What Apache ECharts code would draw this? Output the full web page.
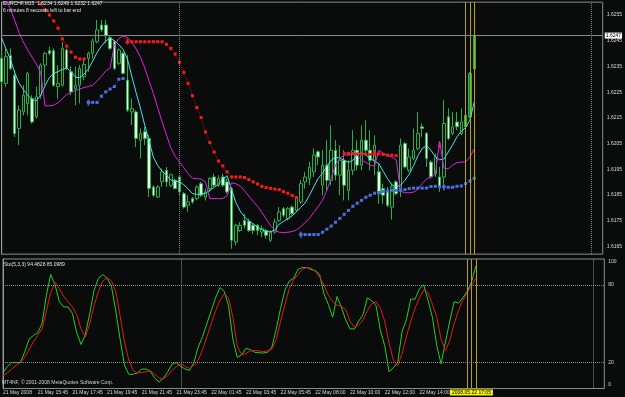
<!DOCTYPE html>
<html><head><meta charset="utf-8">
<script src="https://cdn.jsdelivr.net/npm/echarts@6/dist/echarts.min.js"></script>
<style>html,body{margin:0;padding:0;background:#0a0c0c}#c{width:625px;height:397px}</style>
</head><body><div id="c"></div>
<script>
const symbolName = 'EURCHF,M15';
const timeLabels = ['21 May 2008','21 May 15:45','21 May 17:45','21 May 19:45','21 May 21:45','21 May 23:45','22 May 01:45','22 May 03:45','22 May 05:45','22 May 08:00','22 May 10:00','22 May 12:00','22 May 14:00'];
const priceTicks = [1.6165,1.6175,1.6185,1.6195,1.6205,1.6215,1.6225,1.6235,1.6245,1.6255];
const stochTicks = [0,20,80,100];
const stochLevels = [20,80];
const daySeparators = [41,136];
const vLines = [107,108,109];
const vLineLabel = '2008.05.22 17:05';
const bidPrice = 1.6247;

const open = [1.62381,1.62284,1.62392,1.62316,1.62109,1.62173,1.62206,1.62225,1.62154,1.62238,
1.62355,1.62411,1.62411,1.62271,1.62277,1.62414,1.62329,1.62264,1.62277,1.62310,
1.62381,1.62401,1.62446,1.62511,1.62511,1.62462,1.62446,1.62362,1.62401,1.62297,
1.62173,1.62173,1.62063,1.62096,1.62070,1.61881,1.61842,1.61901,1.61946,1.61888,
1.61907,1.61920,1.61855,1.61810,1.61836,1.61836,1.61894,1.61842,1.61875,1.61920,
1.61888,1.61920,1.61901,1.61875,1.61667,1.61712,1.61751,1.61748,1.61732,1.61732,
1.61706,1.61712,1.61674,1.61706,1.61751,1.61797,1.61758,1.61803,1.61790,1.61823,
1.61901,1.61914,1.61940,1.62018,1.61888,1.61966,1.61907,1.62024,1.61927,1.61985,
1.61868,1.61946,1.62024,1.61966,1.62063,1.62024,1.61985,1.61940,1.61875,1.61862,
1.61803,1.61901,1.61868,1.62050,1.61946,1.61992,1.62031,1.62115,1.62089,1.61978,
1.61933,1.61920,1.61920,1.62154,1.62089,1.62134,1.62089,1.62115,1.62154,1.6234];
const close = [1.62290,1.62388,1.62342,1.62089,1.62180,1.62238,1.62323,1.62134,1.62232,1.62355,
1.62401,1.62401,1.62277,1.62284,1.62420,1.62342,1.62251,1.62277,1.62342,1.62358,
1.62401,1.62449,1.62492,1.62492,1.62469,1.62420,1.62342,1.62414,1.62323,1.62180,
1.62186,1.62070,1.62089,1.62070,1.61875,1.61849,1.61881,1.61940,1.61901,1.61929,
1.61875,1.61862,1.61803,1.61823,1.61823,1.61881,1.61849,1.61862,1.61914,1.61888,
1.61914,1.61888,1.61862,1.61674,1.61732,1.61732,1.61732,1.61712,1.61712,1.61712,
1.61719,1.61693,1.61706,1.61745,1.61784,1.61771,1.61797,1.61777,1.61836,1.61894,
1.61920,1.61959,1.62005,1.61998,1.61966,1.61907,1.62024,1.61927,1.61985,1.61888,
1.61946,1.62024,1.61966,1.62063,1.62024,1.61985,1.62044,1.61855,1.61849,1.61810,
1.61881,1.61855,1.62044,1.61959,1.61998,1.62024,1.62089,1.62109,1.61992,1.61920,
1.61998,1.61881,1.62128,1.62070,1.62115,1.62115,1.62134,1.62160,1.62323,1.6247];
const low = [1.62277,1.62271,1.62336,1.62076,1.62044,1.62160,1.62160,1.62128,1.62147,1.62225,
1.62277,1.62394,1.62271,1.62225,1.62271,1.62336,1.62238,1.62199,1.62206,1.62297,
1.62329,1.62381,1.62440,1.62485,1.62440,1.62414,1.62336,1.62355,1.62319,1.62173,
1.62122,1.62037,1.61992,1.62044,1.61842,1.61842,1.61838,1.61881,1.61881,1.61881,
1.61872,1.61849,1.61797,1.61784,1.61816,1.61829,1.61842,1.61829,1.61862,1.61881,
1.61881,1.61881,1.61855,1.61641,1.61654,1.61706,1.61719,1.61706,1.61699,1.61693,
1.61686,1.61680,1.61667,1.61699,1.61745,1.61764,1.61751,1.61771,1.61784,1.61816,
1.61875,1.61888,1.61920,1.61966,1.61849,1.61868,1.61888,1.61907,1.61849,1.61829,
1.61829,1.61927,1.61946,1.61946,1.62005,1.61946,1.61927,1.61816,1.61816,1.61803,
1.61754,1.61849,1.61842,1.61953,1.61940,1.61985,1.62024,1.62076,1.61959,1.61914,
1.61920,1.61862,1.61881,1.62063,1.62082,1.62102,1.62082,1.62109,1.62148,1.6232];
const high = [1.62414,1.62420,1.62420,1.62336,1.62199,1.62277,1.62329,1.62238,1.62271,1.62362,
1.62407,1.62427,1.62420,1.62355,1.62446,1.62420,1.62349,1.62349,1.62355,1.62381,
1.62407,1.62459,1.62531,1.62531,1.62531,1.62472,1.62453,1.62420,1.62407,1.62394,
1.62225,1.62180,1.62109,1.62115,1.62083,1.61888,1.61888,1.61953,1.61959,1.61933,
1.61914,1.61927,1.61862,1.61849,1.61842,1.61888,1.61901,1.61875,1.61920,1.61933,
1.61927,1.61933,1.61914,1.61881,1.61738,1.61745,1.61777,1.61758,1.61738,1.61738,
1.61732,1.61719,1.61712,1.61758,1.61803,1.61803,1.61803,1.61810,1.61842,1.61907,
1.61940,1.61979,1.62031,1.62024,1.62024,1.62063,1.62121,1.62063,1.62044,1.62024,
1.61985,1.62102,1.62063,1.62121,1.62141,1.62102,1.62082,1.61972,1.61894,1.61881,
1.61894,1.61907,1.62070,1.62056,1.62031,1.62109,1.62173,1.62128,1.62095,1.61985,
1.62011,1.61959,1.62219,1.62187,1.62173,1.62173,1.62187,1.62167,1.62329,1.6249];

const maFast = [1.62459,1.62418,1.62379,1.62326,1.62285,1.62260,1.62238,1.62221,1.62217,1.62238,
1.62275,1.62307,1.62322,1.62330,1.62338,1.62344,1.62330,1.62308,1.62306,1.62320,
1.62340,1.62371,1.62404,1.62429,1.62449,1.62460,1.62450,1.62435,1.62416,1.62379,
1.62312,1.62248,1.62188,1.62121,1.62059,1.61997,1.61964,1.61943,1.61927,1.61909,
1.61904,1.61901,1.61890,1.61874,1.61855,1.61853,1.61853,1.61857,1.61868,1.61880,
1.61892,1.61911,1.61925,1.61872,1.61821,1.61788,1.61765,1.61749,1.61738,1.61725,
1.61715,1.61708,1.61707,1.61714,1.61737,1.61747,1.61758,1.61769,1.61785,1.61802,
1.61820,1.61849,1.61883,1.61915,1.61934,1.61962,1.61985,1.61997,1.61993,1.61985,
1.61977,1.61985,1.62005,1.62016,1.62005,1.61993,1.61981,1.61972,1.61942,1.61913,
1.61890,1.61881,1.61888,1.61907,1.61931,1.61964,1.62003,1.62031,1.62042,1.62024,
1.61999,1.61987,1.61990,1.62017,1.62045,1.62076,1.62098,1.62112,1.62141,1.62212];
const maSlow = [1.62663,1.62616,1.62573,1.62529,1.62482,1.62445,1.62414,1.62386,1.62359,1.62326,
1.62196,1.62197,1.62199,1.62209,1.62225,1.62241,1.62249,1.62257,1.62262,1.62268,
1.62272,1.62277,1.62293,1.62312,1.62332,1.62345,1.62433,1.62458,1.62469,1.62462,
1.62445,1.62418,1.62386,1.62344,1.62293,1.62244,1.62188,1.62135,1.62084,1.62034,
1.62001,1.61979,1.61956,1.61933,1.61915,1.61914,1.61912,1.61901,1.61836,1.61836,
1.61836,1.61836,1.61847,1.61897,1.61894,1.61885,1.61867,1.61846,1.61825,1.61806,
1.61783,1.61757,1.61731,1.61713,1.61705,1.61704,1.61705,1.61708,1.61714,1.61727,
1.61743,1.61759,1.61783,1.61805,1.61829,1.61868,1.61915,1.61966,1.61993,1.62005,
1.62005,1.62008,1.62005,1.61985,1.61977,1.61966,1.61962,1.62024,1.62012,1.62003,
1.61998,1.61987,1.61864,1.61859,1.61859,1.61861,1.61872,1.61895,1.61912,1.61921,
1.61931,1.62059,1.61954,1.61952,1.61966,1.61976,1.61978,1.61979,1.61997,1.62030];

const N = null;
const stopSell = [N,N,N,N,N,N,N,N,1.62616,1.62593,
1.62569,1.62550,1.62527,1.62499,1.62457,1.62429,1.62406,1.62386,1.62379,1.62379,
N,N,N,N,N,N,N,N,N,1.62446,
1.62446,1.62446,1.62446,1.62446,1.62446,1.62446,1.62446,1.62446,1.62436,1.62420,
1.62398,1.62366,1.62327,1.62284,1.62236,1.62190,1.62151,1.62095,1.62054,1.62017,
1.61982,1.61963,1.61940,1.61920,1.61920,1.61920,1.61918,1.61910,1.61901,1.61893,
1.61883,1.61879,1.61876,1.61873,1.61871,1.61863,1.61857,1.61848,1.61840,N,
N,N,N,N,N,N,N,N,N,1.62012,
1.62012,1.62012,1.62010,1.62010,1.62008,1.62008,1.62012,1.62010,1.62008,1.62005,
1.62005,1.62003,N,N,N,N,N,N,N,N,
N,N,N,N,N,N,N,N,N,N];
const stopBuy = [N,N,N,N,N,N,N,N,N,N,
N,N,N,N,N,N,N,N,N,N,
1.62210,1.62210,1.62210,1.62234,1.62251,1.62262,1.62272,1.62300,1.62303,N,
N,N,N,N,N,N,N,N,N,N,
N,N,N,N,N,N,N,N,N,N,
N,N,N,N,N,N,N,N,N,N,
N,N,N,N,N,N,N,N,N,1.61696,
1.61696,1.61696,1.61696,1.61696,1.61705,1.61717,1.61729,1.61744,1.61759,1.61775,
1.61790,1.61806,1.61818,1.61829,1.61841,1.61849,1.61857,1.61860,1.61864,1.61866,
1.61868,1.61868,1.61868,1.61871,1.61875,1.61877,1.61877,1.61877,1.61877,1.61883,
1.61884,1.61882,1.61881,1.61880,1.61880,1.61884,1.61885,1.61894,1.61904,1.61915];
const sellArrowIdx = [29,86,101];
const sellArrowPrice = [1.62446,1.62012,1.62043];
const buyArrowIdx = [20,69,102];
const buyArrowPrice = [1.62210,1.61696,1.61881];

const stochK = [12,17,20,20,20,28,38,41,43,50,72,88,80,67,63,63,58,43,34,42,58,76,85,88,85,79,60,38,18,11,11,12,15,15,13,8,5,8,13,19,20,17,15,14,20,32,40,50,60,70,78,75,64,38,24,26,31,30,28,27.6,27.4,28,32,46,62,76,83,85,92,93.4,93.4,92,91,88,73,65,55,71,63,53,46,46,52,57,70,68,64,45,33,13,16,20,44,53,69,69,77,80,68,55,33,19,36,52,67,66,70,75,82,94.4828];
const stochD = [10,12,15,18,20,24,30,36,41,46,60,74,82,77,71,67,63,57,46,40,50,64,75,83,85.5,83,75,56,36,22,14,12,12.4,13,13.8,11,8,7.5,10,14,17,19,17,15.5,18,22,30,40,50,60,68,73,70,55,33,26,27,29,29.4,29,28.5,29,30.5,38,52,65,77,84,88,92,93.4,93,90.5,86,80,72,67,64.4,63.5,61,52,47.5,49,53,60,65.5,67,62,52,35,22,17.6,27,40,52,62,70,76,74,65,55,38,29.4,37,50,60,68,74,79,85.0989];

const FONT = 'Liberation Sans';
const GREEN = '#25b04c';
const GRID_L = 1.7, GRID_W = 602.6, BAR_STEP = 4.347;
const X_MAX = GRID_W / BAR_STEP;

const pts = arr => arr.map((v, i) => [i, v == null ? '-' : v]);
const last = open.length - 1;
const candleData = open.map((o, i) => {
  const v = [i, o, close[i], low[i], high[i]];
  return i >= vLines[0] ? { value: v, itemStyle: { color: '#1f7f3c', color0: '#1f7f3c' } } : v;
});
const arrowDown = 'path://M2,0L4,0L4,4L6,4L3,8L0,4L2,4Z';
const arrowUp = 'path://M3,0L6,4L4,4L4,8L2,8L2,4L0,4Z';

const sepLine = { type: 'dotted', color: '#8c8c8c', width: 1 };
const yellowLine = { type: 'solid', color: '#b9a018', width: 1 };
const axisText = { color: '#d8d8d8', fontSize: 5, fontFamily: FONT };

const chart = echarts.init(document.getElementById('c'));
chart.setOption({
  animation: false,
  backgroundColor: '#0a0c0c',
  textStyle: { fontFamily: FONT },
  title: [
    { text: symbolName + '  ' + [open[last], high[last], low[last], close[last]].map(v => v.toFixed(4)).join(' '),
      left: 3, top: 1, padding: 0, textStyle: { color: '#e6e6e6', fontSize: 5, fontWeight: 'normal', fontFamily: FONT } },
    { text: '6 minutes 8 seconds left to bar end',
      left: 3, top: 8, padding: 0, textStyle: { color: '#e6e6e6', fontSize: 5, fontWeight: 'normal', fontFamily: FONT } },
    { text: 'Sto(5,3,3) ' + stochK[last].toFixed(4) + ' ' + stochD[last].toFixed(4),
      left: 4, top: 262, padding: 0, textStyle: { color: '#e0e0e0', fontSize: 5, fontWeight: 'normal', fontFamily: FONT } },
    { text: 'MT4NF, © 2001-2008 MetaQuotes Software Corp.',
      left: 2, top: 380, padding: 0, textStyle: { color: '#d0d0d0', fontSize: 5, fontWeight: 'normal', fontFamily: FONT } }
  ],
  grid: [
    { left: GRID_L, top: 2.14, width: GRID_W, height: 252, show: true, borderColor: '#8c8c8c', borderWidth: 1, backgroundColor: 'transparent' },
    { left: GRID_L, top: 259, width: GRID_W, height: 129.5, show: true, borderColor: '#8c8c8c', borderWidth: 1, backgroundColor: 'transparent' }
  ],
  xAxis: [
    { type: 'value', gridIndex: 0, min: 0, max: X_MAX, interval: 8,
      axisLine: { show: false }, axisTick: { show: false }, axisLabel: { show: false }, splitLine: { show: false } },
    { type: 'value', gridIndex: 1, min: 0, max: X_MAX, interval: 8,
      axisLine: { show: false }, axisTick: { show: false }, splitLine: { show: false },
      axisLabel: { show: true, ...axisText, align: 'left', margin: 2,
        showMinLabel: true, showMaxLabel: false, hideOverlap: false,
        formatter: v => { const k = Math.round(v); return (k % 8 === 0 && timeLabels[k / 8]) ? timeLabels[k / 8] : ''; } } }
  ],
  yAxis: [
    { type: 'value', gridIndex: 0, position: 'right', min: 1.6162, max: 1.6260, interval: 0.0001,
      axisLine: { show: true, lineStyle: { color: '#9a9a9a' } }, axisTick: { show: false }, splitLine: { show: false },
      axisLabel: { ...axisText, margin: 4,
        formatter: v => priceTicks.some(t => Math.round(t * 1e4) === Math.round(v * 1e4)) ? v.toFixed(4) : '' } },
    { type: 'value', gridIndex: 1, position: 'right', min: 0, max: 100, interval: 20,
      axisLine: { show: true, lineStyle: { color: '#9a9a9a' } }, axisTick: { show: false }, splitLine: { show: false },
      axisLabel: { ...axisText, margin: 4,
        rich: { top: { ...axisText, padding: [6, 0, 0, 0] }, bot: { ...axisText, padding: [0, 0, 8, 0] }, mid: { ...axisText } },
        formatter: v => {
          const k = Math.round(v);
          if (!stochTicks.includes(k)) return '';
          if (k === stochTicks[stochTicks.length - 1]) return '{top|' + k + '}';
          if (k === stochTicks[0]) return '{bot|' + k + '}';
          return '{mid|' + k + '}';
        } } }
  ],
  series: [
    { type: 'candlestick', xAxisIndex: 0, yAxisIndex: 0, data: candleData, encode: { x: 0, y: [1, 2, 3, 4] },
      barWidth: 3, itemStyle: { color: '#0a0c0c', color0: '#e8ffe8', borderColor: GREEN, borderColor0: GREEN, borderWidth: 1 },
      markLine: { silent: true, symbol: ['none', 'none'], animation: false, label: { show: false },
        data: [
          ...daySeparators.map(x => ({ xAxis: x, lineStyle: sepLine })),
          ...vLines.map(x => ({ xAxis: x, lineStyle: yellowLine }))
        ] } },
    { type: 'line', xAxisIndex: 0, yAxisIndex: 0, data: pts(maFast), symbol: 'none', lineStyle: { color: '#40e6e6', width: 1 },
      markLine: { silent: true, symbol: ['none', 'none'], animation: false, precision: 4,
        data: [
          { yAxis: bidPrice, lineStyle: { type: 'solid', color: '#8a8a8a', width: 1 },
            label: { show: true, position: 'end', distance: 2, formatter: bidPrice.toFixed(4), color: '#000', backgroundColor: '#ffffff', fontSize: 5, padding: [1, 1, 0, 1], fontFamily: FONT } }
        ] } },
    { type: 'line', xAxisIndex: 0, yAxisIndex: 0, data: pts(maSlow), symbol: 'none', lineStyle: { color: '#e022e0', width: 1 } },
    { type: 'line', xAxisIndex: 0, yAxisIndex: 0, data: pts(stopSell), symbol: 'rect', symbolSize: 3, showSymbol: true, connectNulls: false,
      itemStyle: { color: '#ff1a1a' }, lineStyle: { color: '#a01414', width: 1, type: 'dotted' } },
    { type: 'line', xAxisIndex: 0, yAxisIndex: 0, data: pts(stopBuy), symbol: 'rect', symbolSize: 3, showSymbol: true, connectNulls: false,
      itemStyle: { color: '#4a6fe0' }, lineStyle: { color: '#3050b0', width: 1, type: 'dotted' } },
    { type: 'scatter', xAxisIndex: 0, yAxisIndex: 0, data: sellArrowIdx.map((x, k) => [x, sellArrowPrice[k]]),
      symbol: arrowDown, symbolSize: [5, 7], itemStyle: { color: '#ff1a1a' } },
    { type: 'scatter', xAxisIndex: 0, yAxisIndex: 0, data: buyArrowIdx.map((x, k) => [x, buyArrowPrice[k]]),
      symbol: arrowUp, symbolSize: [5, 7], itemStyle: { color: '#4a6fe0' } },
    { type: 'line', xAxisIndex: 1, yAxisIndex: 1, data: pts(stochK), symbol: 'none', lineStyle: { color: '#1fd01f', width: 1 },
      markLine: { silent: true, symbol: ['none', 'none'], animation: false, label: { show: false },
        data: [
          ...stochLevels.map(v => ({ yAxis: v, lineStyle: sepLine })),
          ...daySeparators.map(x => ({ xAxis: x, lineStyle: sepLine })),
          ...vLines.map(x => ({ xAxis: x, lineStyle: yellowLine,
            label: x === vLines[1] ? { show: true, position: 'start', distance: 1, formatter: vLineLabel, color: '#000', backgroundColor: '#f4f400', fontSize: 5, padding: [1, 2, 0, 2], fontFamily: FONT } : { show: false } }))
        ] } },
    { type: 'line', xAxisIndex: 1, yAxisIndex: 1, data: pts(stochD), symbol: 'none', lineStyle: { color: '#e81818', width: 1 } }
  ]
});
</script></body></html>
